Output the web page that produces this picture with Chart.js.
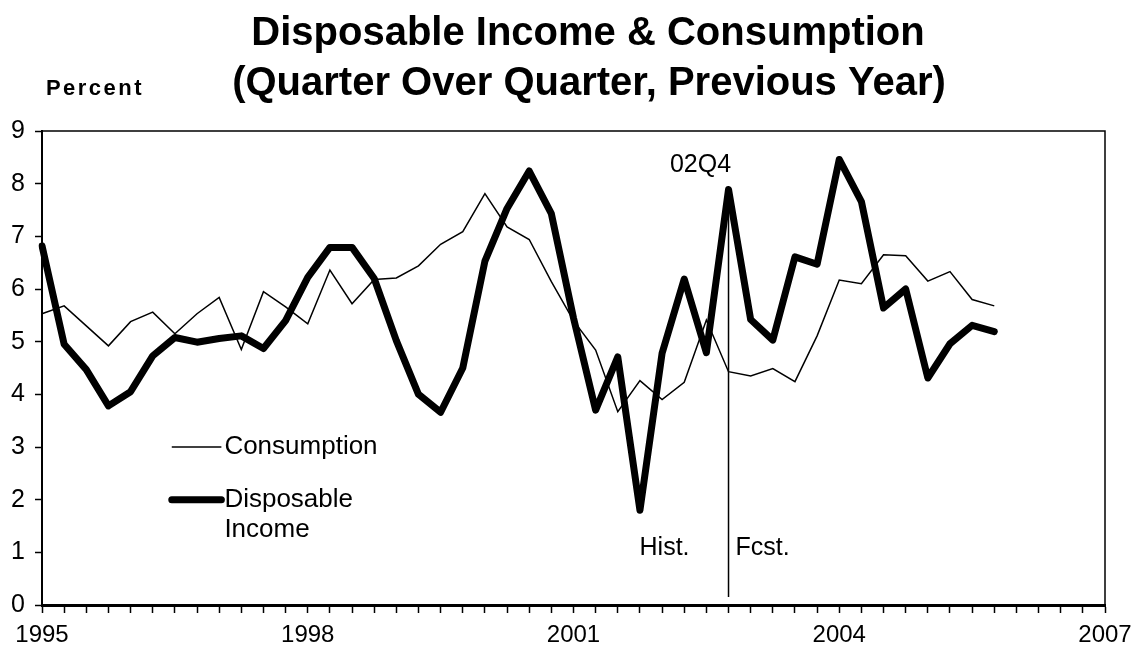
<!DOCTYPE html>
<html>
<head>
<meta charset="utf-8">
<title>Disposable Income & Consumption</title>
<script src="https://cdn.jsdelivr.net/npm/chart.js@4.4.1/dist/chart.umd.min.js"></script>
<style>
  html, body { margin: 0; padding: 0; background: #fff; }
  #wrap { width: 1135px; height: 654px; }
</style>
</head>
<body>
<div id="wrap"><canvas id="chart" width="1135" height="654"></canvas></div>
<script>
// Quarterly categories, 1995Q1 through 2007Q1
const quarters = [
  '1995Q1','1995Q2','1995Q3','1995Q4','1996Q1','1996Q2','1996Q3','1996Q4',
  '1997Q1','1997Q2','1997Q3','1997Q4','1998Q1','1998Q2','1998Q3','1998Q4',
  '1999Q1','1999Q2','1999Q3','1999Q4','2000Q1','2000Q2','2000Q3','2000Q4',
  '2001Q1','2001Q2','2001Q3','2001Q4','2002Q1','2002Q2','2002Q3','2002Q4',
  '2003Q1','2003Q2','2003Q3','2003Q4','2004Q1','2004Q2','2004Q3','2004Q4',
  '2005Q1','2005Q2','2005Q3','2005Q4','2006Q1','2006Q2','2006Q3','2006Q4',
  '2007Q1'
];
const labelledQuarters = ['1995Q1', '1998Q1', '2001Q1', '2004Q1', '2007Q1'];

// Percent change, 1995Q1 - 2005Q4
const consumption = [
  5.53, 5.68, 5.30, 4.92, 5.38, 5.56, 5.15, 5.53, 5.84, 4.85,
  5.95, 5.66, 5.34, 6.36, 5.72, 6.18, 6.21, 6.44, 6.85, 7.09,
  7.81, 7.18, 6.94, 6.14, 5.40, 4.84, 3.67, 4.26, 3.90, 4.23,
  5.41, 4.43, 4.35, 4.49, 4.24, 5.11, 6.17, 6.10, 6.65, 6.63,
  6.15, 6.33, 5.80, 5.68
];
const disposableIncome = [
  6.82, 4.95, 4.47, 3.78, 4.05, 4.73, 5.08, 4.99, 5.06, 5.11,
  4.87, 5.40, 6.22, 6.79, 6.79, 6.20, 5.02, 4.00, 3.66, 4.50,
  6.53, 7.53, 8.24, 7.43, 5.45, 3.70, 4.71, 1.80, 4.78, 6.19,
  4.79, 7.89, 5.42, 5.03, 6.61, 6.47, 8.46, 7.66, 5.64, 6.00,
  4.31, 4.96, 5.31, 5.19
];

// History / forecast split
const splitQuarter = '2002Q4';
const splitRange = [0.15, 7.85];

const FONT = "'Liberation Sans', Arial, sans-serif";

const decorations = {
  id: 'decorations',
  afterDraw(chart) {
    const { ctx, chartArea, scales } = chart;
    const x = scales.x, y = scales.y;
    ctx.save();

    // frame on top and right
    ctx.strokeStyle = '#000';
    ctx.lineWidth = 1.5;
    ctx.beginPath();
    ctx.moveTo(chartArea.left, chartArea.top);
    ctx.lineTo(chartArea.right, chartArea.top);
    ctx.lineTo(chartArea.right, chartArea.bottom);
    ctx.stroke();

    // titles
    ctx.fillStyle = '#000';
    ctx.textBaseline = 'middle';
    ctx.textAlign = 'center';
    ctx.font = 'bold 40px ' + FONT;
    ctx.fillText('Disposable Income & Consumption', 588, 34);
    ctx.fillText('(Quarter Over Quarter, Previous Year)', 589, 84);
    ctx.font = 'bold 22px ' + FONT;
    ctx.letterSpacing = '2.5px';
    ctx.fillText('Percent', 95, 89);
    ctx.letterSpacing = '0px';

    // annotations around the split line
    const sx = x.getPixelForValue(quarters.indexOf(splitQuarter));
    ctx.font = '25px ' + FONT;
    ctx.textAlign = 'center';
    ctx.fillText('02Q4', sx - 28, y.getPixelForValue(8.36));
    ctx.textAlign = 'right';
    ctx.fillText('Hist.', sx - 39, y.getPixelForValue(1.08));
    ctx.textAlign = 'left';
    ctx.fillText('Fcst.', sx + 7, y.getPixelForValue(1.08));

    // legend
    const lx0 = x.getPixelForValue(5.86), lx1 = x.getPixelForValue(8.1);
    ctx.lineCap = 'butt';
    ctx.lineWidth = 1.5;
    ctx.beginPath();
    ctx.moveTo(lx0, y.getPixelForValue(3.0));
    ctx.lineTo(lx1, y.getPixelForValue(3.0));
    ctx.stroke();
    ctx.lineWidth = 7;
    ctx.lineCap = 'round';
    ctx.beginPath();
    ctx.moveTo(lx0, y.getPixelForValue(2.0));
    ctx.lineTo(lx1, y.getPixelForValue(2.0));
    ctx.stroke();
    ctx.font = '26px ' + FONT;
    ctx.textAlign = 'left';
    ctx.fillText('Consumption', lx1 + 3, y.getPixelForValue(3.0));
    ctx.fillText('Disposable', lx1 + 3, y.getPixelForValue(2.0));
    ctx.fillText('Income', lx1 + 3, y.getPixelForValue(1.42));
    ctx.restore();
  }
};

new Chart(document.getElementById('chart'), {
  type: 'line',
  data: {
    labels: quarters,
    datasets: [
      {
        label: 'Consumption',
        data: consumption,
        borderColor: '#000',
        borderWidth: 1.5,
        pointRadius: 0,
        tension: 0
      },
      {
        label: 'Disposable Income',
        data: disposableIncome,
        borderColor: '#000',
        borderWidth: 7,
        borderJoinStyle: 'round',
        borderCapStyle: 'round',
        pointRadius: 0,
        tension: 0
      },
      {
        label: 'split',
        data: splitRange.map(v => ({ x: splitQuarter, y: v })),
        borderColor: '#000',
        borderWidth: 1.5,
        pointRadius: 0
      }
    ]
  },
  options: {
    responsive: false,
    animation: false,
    layout: { padding: { top: 131, right: 30, left: 0, bottom: 0 } },
    plugins: {
      legend: { display: false },
      title: { display: false },
      tooltip: { enabled: false }
    },
    scales: {
      x: {
        type: 'category',
        offset: false,
        border: { color: '#000', width: 3 },
        grid: { drawOnChartArea: false, drawTicks: true, tickLength: 8, tickColor: '#000', tickWidth: 1.5 },
        ticks: {
          autoSkip: false,
          maxRotation: 0,
          color: '#000',
          padding: 8,
          font: { family: FONT, size: 24 },
          callback: function (value) {
            const q = this.getLabelForValue(value);
            return labelledQuarters.includes(q) ? q.slice(0, 4) : '';
          }
        },
        afterFit(scale) {
          scale.height = 49;
          scale.paddingLeft = 0;
          scale.paddingRight = 0;
        }
      },
      y: {
        min: 0,
        max: 9,
        border: { color: '#000', width: 2 },
        grid: { drawOnChartArea: false, drawTicks: true, tickLength: 7, tickColor: '#000', tickWidth: 1.5 },
        ticks: {
          stepSize: 0.5,
          color: '#000',
          padding: 10,
          font: { family: FONT, size: 25 },
          callback: v => Number.isInteger(v) ? String(v) : ''
        },
        afterFit(scale) {
          scale.width = 42;
          scale.paddingTop = 0;
          scale.paddingBottom = 0;
        }
      }
    }
  },
  plugins: [decorations]
});
</script>
</body>
</html>
